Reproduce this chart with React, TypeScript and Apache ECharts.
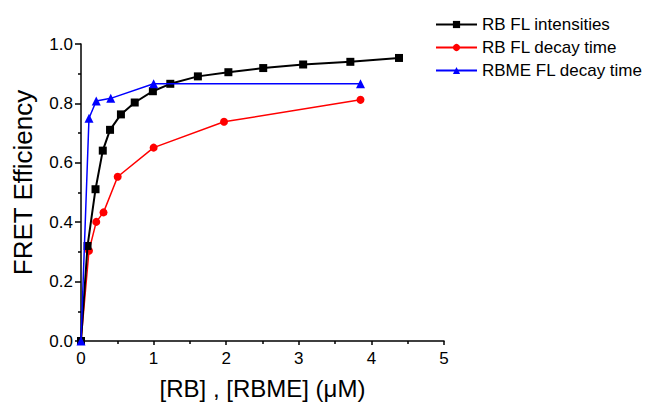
import React, { useEffect, useRef } from "react";
import * as echarts from "echarts";

const intensX = [0, 0.09, 0.2, 0.3, 0.4, 0.55, 0.74, 0.99, 1.23, 1.61, 2.03, 2.51, 3.06, 3.71, 4.38];
const intensY = [0, 0.32, 0.511, 0.641, 0.711, 0.763, 0.803, 0.841, 0.866, 0.891, 0.905, 0.919, 0.931, 0.94, 0.953];

const rbDecayX = [0, 0.11, 0.21, 0.31, 0.505, 1.0, 1.97, 3.85];
const rbDecayY = [0, 0.304, 0.401, 0.433, 0.553, 0.651, 0.738, 0.812];

const rbmeDecayX = [0, 0.11, 0.21, 0.41, 1.0, 3.85];
const rbmeDecayY = [0, 0.75, 0.808, 0.817, 0.866, 0.866];

const seriesNames = ["RB FL intensities", "RB FL decay time", "RBME FL decay time"];

const FONT = "'Liberation Sans', Arial, Helvetica, sans-serif";

function pairs(xs: number[], ys: number[]) {
  return xs.map((x, i) => [x, ys[i]]);
}

export default function App() {
  const ref = useRef<HTMLDivElement>(null);
  useEffect(() => {
    if (!ref.current) return;
    document.body.style.margin = "0";
    const chart = echarts.init(ref.current, null, { renderer: "svg" });
    chart.setOption({
      animation: false,
      backgroundColor: "#ffffff",
      grid: { left: 81, top: 44, right: 201, bottom: 61, containLabel: false },
      legend: {
        orient: "vertical",
        left: 430,
        top: 11,
        itemWidth: 41,
        itemHeight: 9,
        itemGap: 6,
        textStyle: { fontFamily: FONT, fontSize: 17, color: "#000" },
        data: seriesNames,
      },
      xAxis: {
        type: "value",
        min: 0,
        max: 5,
        interval: 1,
        name: "[RB] , [RBME] (μM)",
        nameLocation: "middle",
        nameGap: 35,
        nameTextStyle: { fontFamily: FONT, fontSize: 24, color: "#000" },
        axisLine: { show: true, lineStyle: { color: "#000", width: 1.5 } },
        axisTick: { show: true, inside: false, length: 4, lineStyle: { color: "#000", width: 1.5 } },
        minorTick: { show: true, splitNumber: 2, length: 3, lineStyle: { color: "#000", width: 1.5 } },
        axisLabel: { fontFamily: FONT, fontSize: 17, color: "#000", margin: 9 },
        splitLine: { show: false },
      },
      yAxis: {
        type: "value",
        min: 0,
        max: 1,
        interval: 0.2,
        name: "FRET Efficiency",
        nameLocation: "middle",
        nameGap: 45,
        nameTextStyle: { fontFamily: FONT, fontSize: 26, color: "#000", padding: [0, 0, 0, 20] },
        axisLine: { show: true, lineStyle: { color: "#000", width: 1.5 } },
        axisTick: { show: true, inside: false, length: 6, lineStyle: { color: "#000", width: 1.5 } },
        minorTick: { show: true, splitNumber: 2, length: 3, lineStyle: { color: "#000", width: 1.5 } },
        axisLabel: {
          fontFamily: FONT,
          fontSize: 17,
          color: "#000",
          margin: 8,
          formatter: (v: number) => v.toFixed(1),
        },
        splitLine: { show: false },
      },
      series: [
        {
          name: seriesNames[0],
          type: "line",
          data: pairs(intensX, intensY),
          symbol: "rect",
          symbolSize: 8,
          color: "#000000",
          lineStyle: { width: 2, color: "#000000" },
          itemStyle: { color: "#000000" },
          z: 3,
        },
        {
          name: seriesNames[1],
          type: "line",
          data: pairs(rbDecayX, rbDecayY),
          symbol: "circle",
          symbolSize: 8,
          color: "#ff0000",
          lineStyle: { width: 1.5, color: "#ff0000" },
          itemStyle: { color: "#ff0000" },
          z: 2,
        },
        {
          name: seriesNames[2],
          type: "line",
          data: pairs(rbmeDecayX, rbmeDecayY),
          symbol: "triangle",
          symbolSize: 9,
          color: "#0000ff",
          lineStyle: { width: 1.5, color: "#0000ff" },
          itemStyle: { color: "#0000ff" },
          z: 4,
        },
      ],
    });
    return () => chart.dispose();
  }, []);
  return <div ref={ref} style={{ width: 645, height: 405 }} />;
}
